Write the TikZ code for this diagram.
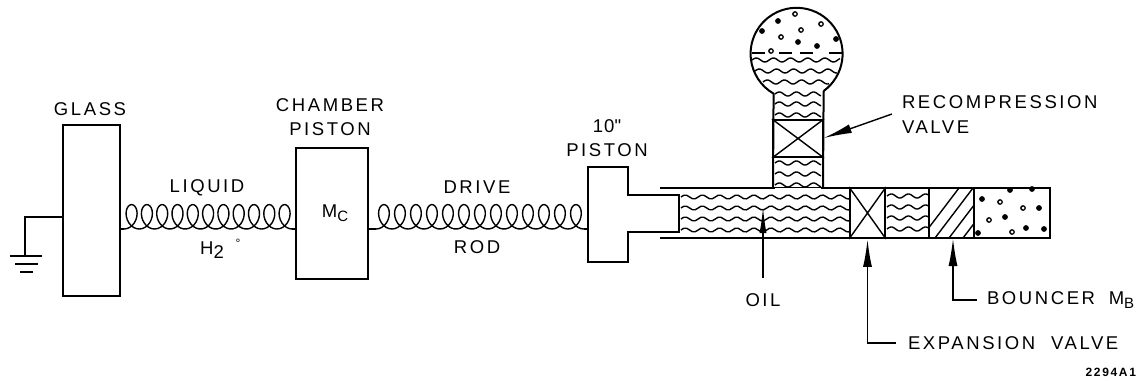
\documentclass[tikz,border=0pt]{standalone}
\usepackage{fontspec}
\setmainfont[LetterSpace=14]{Liberation Sans}
\newfontfamily\plainf{Liberation Sans}
\usetikzlibrary{arrows.meta}
\newcommand{\wavy}[3]{\draw[wave] plot[domain=0:#2-#1,samples=60,smooth] ({#1+\x},{#3-2*sin(\x*21)});}
% spring: from, to, loops, period, lead
\newcommand{\spring}[5]{%
  \draw[thin line] (#1) -- ++(#5,0);
  \begin{scope}[shift={(#1)}]
  \draw[thin line] plot[domain=0:#3*360,samples=#3*24,smooth] ({#5+\x/360*#4+9*sin(\x)},{-12.2*(1-cos(\x))});
  \draw[thin line] ({#5+#3*#4},0) -- (#2);
  \end{scope}}
\tikzset{
 box/.style={draw,fill=white,rectangle,inner sep=0pt,line width=1.9pt},
 wave/.style={line width=1.4pt},
 lab/.style={inner sep=0pt,font=\fontsize{18.5}{20}\selectfont,align=center},
 thin line/.style={line width=1.4pt},
 tip/.style={-{Latex[length=28pt,width=9pt]}},
}
\begin{document}
\begin{tikzpicture}[x=1pt,y=-1pt,line width=2pt]
\useasboundingbox (0,0) rectangle (1141,381);
% glass and ground
\node[box,minimum width=57pt,minimum height=171pt] (glass) at (91.5,210.5) {};
\coordinate (gr) at (25,256);
\draw[line width=1.8pt] (glass.west |- 0,217) -| (gr);
\draw[line width=2pt] (10,256) -- (42,256);
\draw[line width=2pt] (15,264) -- (38,264);
\draw[line width=2.4pt] (20,272) -- (33,272);
% chamber piston
\node[box,minimum width=72pt,minimum height=131pt] (chamber) at (332,213.5) {};
\node[lab] (mc) at (335,213) {M\raisebox{-4pt}{\fontsize{15}{15}\selectfont C}};
% ten-inch piston
\node[minimum width=38pt,minimum height=93pt,inner sep=0pt] (head) at (608,214.5) {};
\draw[line width=2pt,line join=miter] (head.south east) -- (head.south west) -- (head.north west) -- (head.north east) -- (head.east |- 0,195) -- (679,195) -- (679,232) -- (head.east |- 0,232) -- cycle;
% springs
\coordinate (s1) at (glass.east |- 0,229);
\coordinate (s2) at (chamber.west |- 0,229);
\coordinate (s3) at (chamber.east |- 0,229);
\coordinate (s4) at (head.west |- 0,229);
\spring{s1}{s2}{11}{15.3}{3}
\spring{s3}{s4}{13}{16}{7}
% cylinder
\draw (660,188) -- (1050,188) -- (1050,238) -- (660,238);
\foreach \y in {197,208,219,230} {\wavy{681}{849}{\y}}
\foreach \y in {196,207,218,229} {\wavy{887}{928}{\y}}
% expansion valve
\node[box,minimum width=35pt,minimum height=50pt] (exp) at (867.5,213) {};
\draw[thin line] (exp.north west) -- (exp.south east) (exp.north east) -- (exp.south west);
% bouncer section
\draw (929,188) -- (929,238) (974,188) -- (974,238);
\begin{scope}
\clip (929,188) rectangle (974,238);
\foreach \i in {0,...,6} {\draw[thin line] (921+\i*14,238) -- (921+\i*14+38,188);}
\end{scope}
\foreach \a/\b in {982/199,1000/202,1023/208,1039/208,1005/217,989/220,1026/228,1012/232,1044/229,978/233,1010/190,1032/189} {\fill (\a,\b) circle (2.9pt);}
\foreach \a/\b in {1000/202,1023/208,989/220,1012/232} {\fill[white] (\a,\b) circle (1.5pt);}
% neck and bulb
\node[circle,minimum size=92pt,inner sep=0pt] (bulb) at (796,53) {};
\draw (bulb.-54) arc[start angle=-54,end angle=240,radius=46pt] -- (773,188);
\draw (bulb.-54) -- (823,188);
\draw[white,line width=3pt] (775,189.5) -- (821,189.5);
\node[box,fill=none,minimum width=50pt,minimum height=37pt] (rec) at (798,138.5) {};
\draw[thin line] (rec.north west) -- (rec.south east) (rec.north east) -- (rec.south west);
\wavy{752}{840}{60}
\wavy{755}{837}{71}
\wavy{763}{829}{82}
\foreach \y in {94,104,115,163,174,185} {\wavy{775}{821}{\y}}
\foreach \a/\b in {752/53,779/53,800/53,829/53} {\draw[line width=1.6pt] (\a,\b) -- ++(13,0);}
\foreach \a/\b in {778/21,795/14,821/24,762/31,801/30,781/37,798/42,817/46,836/39,771/51} {\fill (\a,\b) circle (2.9pt);}
\foreach \a/\b in {795/14,821/24,801/30,781/37,771/51} {\fill[white] (\a,\b) circle (1.5pt);}
% labels
\node[lab] (lglass) at (90,109) {GLASS};
\node[lab] (lliq) at (207,188) {LIQUID};
\node[lab] (lh) at (212,250) {H\raisebox{-4pt}{2}};
\node[lab,font=\fontsize{12}{12}\selectfont] (ldeg) at (238,243) {°};
\node[lab] (lch) at (330,117.5) {CHAMBER\\[4pt]PISTON};
\node[lab] (ldr) at (477,187) {DRIVE};
\node[lab] (lrod) at (477,247) {ROD};
\node[lab] (lten) at (607,138.5) {1\hspace{1pt}0{\plainf "}\\[4pt]PISTON};
\node[lab,anchor=west] (lrec) at (901,102) {RECOMPRESSION};
\node[lab,anchor=west] (lval) at (901,127) {VALVE};
\node[lab] (loil) at (763,300) {OIL};
\node[lab,anchor=west] (lbo) at (986,300) {BOUNCER\hspace{6pt} M\raisebox{-4pt}{\fontsize{15}{15}\selectfont B}};
\node[lab,anchor=west] (lex) at (907,343) {EXPANSION\hspace{8pt} VALVE};
\node[inner sep=0pt,font=\bfseries\fontsize{12}{12}\selectfont,anchor=east] (lcode) at (1137,372) {2294A1};
% arrows
\coordinate (oilend) at (763,278);
\coordinate (oiltip) at (763,207);
\draw[thin line,-{Latex[length=26pt,width=7pt]}] (oilend) -- (oiltip);
\coordinate (recs) at (892,114);
\draw[thin line,tip] (recs) -- (rec.east |- 0,138);
\draw[line width=1.7pt,tip] ([xshift=-11pt]lex.west) -| (exp.south);
\draw[line width=1.7pt,tip] ([xshift=-9pt]lbo.west) -| (953,238);
\end{tikzpicture}
\end{document}
